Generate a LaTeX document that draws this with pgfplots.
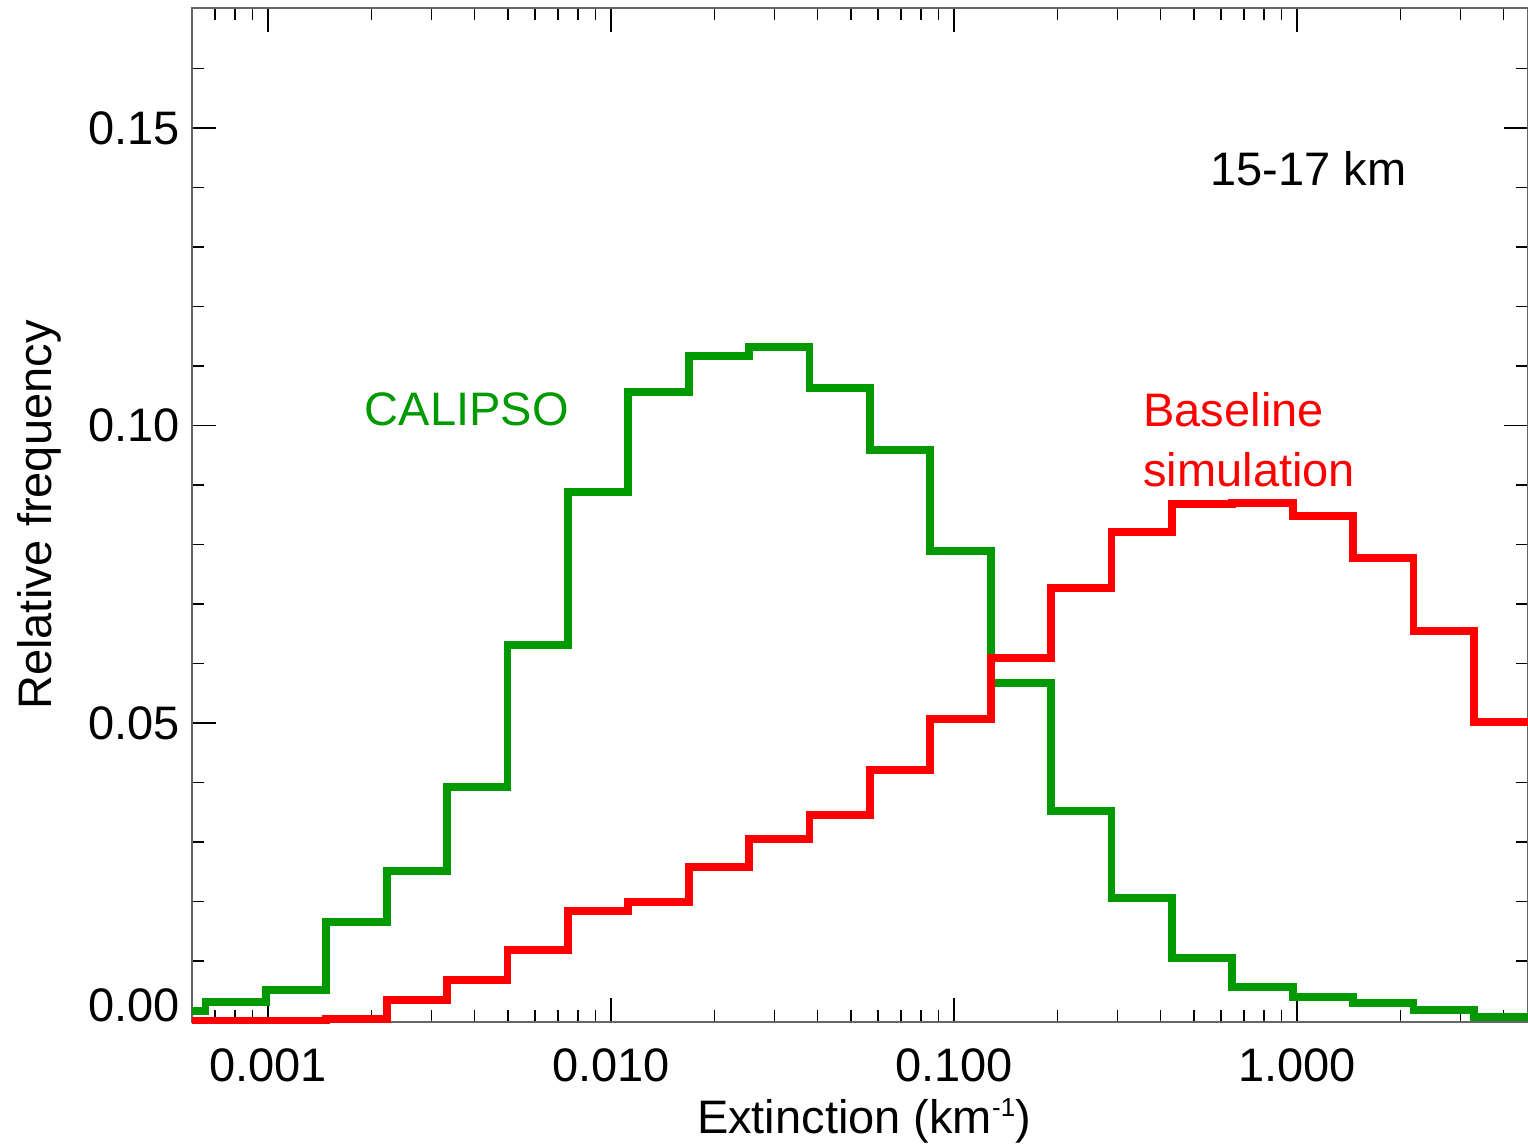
\documentclass[border=0pt]{standalone}
\usepackage{fontspec}
\setmainfont{Liberation Sans}
\usepackage{pgfplots}
\pgfplotsset{compat=1.18}
\usetikzlibrary{calc}
\definecolor{cgreen}{RGB}{0,153,0}
\definecolor{cred}{RGB}{255,0,0}
\newcommand{\bigfont}{\fontsize{23.5}{28}\selectfont}
\begin{document}
\begin{tikzpicture}
\begin{axis}[
  scale only axis,
  width=668pt, height=507pt,
  xmode=log,
  xmin=0.0006, xmax=4.71,
  ymin=-0.00025, ymax=0.1702,
  clip=false,
  tick pos=both,
  tick align=inside,
  xtick={0.001,0.01,0.1,1},
  xticklabels={0.001,0.010,0.100,1.000},
  minor xtick={0.0007,0.0008,0.0009,0.002,0.003,0.004,0.005,0.006,0.007,0.008,0.009,0.02,0.03,0.04,0.05,0.06,0.07,0.08,0.09,0.2,0.3,0.4,0.5,0.6,0.7,0.8,0.9,2,3,4},
  ytick={0,0.05,0.10,0.15},
  yticklabels={,0.05,0.10,0.15},
  minor ytick={0.01,0.02,0.03,0.04,0.06,0.07,0.08,0.09,0.11,0.12,0.13,0.14,0.16},
  extra y ticks={0},
  extra y tick labels={0.00},
  extra y tick style={yticklabel style={yshift=7.75pt}},
  major tick length=12pt,
  minor tick length=6pt,
  tick style={black, line width=0.7pt},
  axis line style={black!60, line width=1pt},
  xticklabel style={font=\bigfont, anchor=base, yshift=-29.5pt, inner sep=0pt},
  yticklabel style={font=\bigfont, anchor=east, xshift=-6pt, inner sep=0pt},
  xlabel={Extinction (km\raisebox{8.5pt}{\fontsize{13}{13}\selectfont -1})},
  ylabel={Relative frequency},
  xlabel style={font=\bigfont, at={(axis description cs:0.503,-0.1095)}, anchor=base, inner sep=0pt},
  ylabel style={font=\bigfont, at={(axis description cs:-0.1048,0.5)}, anchor=base, rotate=0, inner sep=0pt},
]
\addplot[const plot, color=cgreen, line width=3.9pt, line join=miter] coordinates {
(0.0006,0.0016) (0.000657,0.0031) (0.000985,0.0051) (0.001478,0.0166) (0.002216,0.0251) (0.003325,0.0392) (0.004987,0.0631) (0.007480,0.0888) (0.011221,0.1056) (0.016831,0.1117) (0.025247,0.1132) (0.037870,0.1063) (0.056805,0.0959) (0.085208,0.0789) (0.127812,0.0567) (0.191718,0.0352) (0.287577,0.0206) (0.431365,0.0105) (0.647048,0.0056) (0.970572,0.0039) (1.455858,0.0029) (2.183787,0.0018) (3.275681,0.0006) (4.913521,0.0006)
};
\addplot[const plot, color=cred, line width=3.9pt, line join=miter] coordinates {
(0.0006,0) (0.000657,0) (0.000985,0) (0.001478,0.0003) (0.002216,0.0034) (0.003325,0.0068) (0.004987,0.0118) (0.007480,0.0184) (0.011221,0.0199) (0.016831,0.0258) (0.025247,0.0305) (0.037870,0.0345) (0.056805,0.0421) (0.085208,0.0507) (0.127812,0.0609) (0.191718,0.0727) (0.287577,0.0821) (0.431365,0.0868) (0.647048,0.0870) (0.970572,0.0848) (1.455858,0.0777) (2.183787,0.0655) (3.275681,0.0502) (4.913521,0.0502)
};
\node[font=\bigfont, anchor=base west, inner sep=0pt] at (axis cs:0.557,0.1403) {15-17 km};
\node[font=\bigfont, anchor=base west, inner sep=0pt, text=cgreen] at (axis cs:0.00191,0.1001) {CALIPSO};
\node[font=\bigfont, anchor=base west, inner sep=0pt, text=cred] at (axis cs:0.3556,0.0999) {Baseline};
\node[font=\bigfont, anchor=base west, inner sep=0pt, text=cred] at (axis cs:0.3556,0.0898) {simulation};
\coordinate (SW) at (rel axis cs:0,0);
\coordinate (NE) at (rel axis cs:1,1);
\end{axis}
\pgfresetboundingbox
\path[use as bounding box] ($(SW)+(-96pt,-61.5pt)$) rectangle ($(NE)+(0pt,4pt)$);
\end{tikzpicture}
\end{document}
